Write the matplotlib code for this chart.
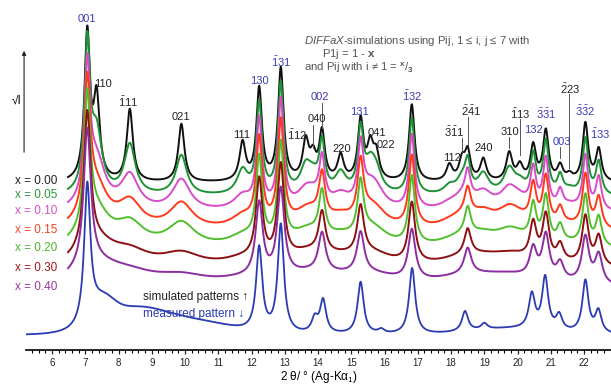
import numpy as np
import matplotlib
matplotlib.use("Agg")
import matplotlib.pyplot as plt
from matplotlib.ticker import MultipleLocator, FixedLocator

plt.rcParams["font.family"] = ["Liberation Sans", "DejaVu Sans"]
plt.rcParams["mathtext.fontset"] = "custom"
plt.rcParams["mathtext.rm"] = "Liberation Sans"
plt.rcParams["mathtext.it"] = "Liberation Sans:italic"
plt.rcParams["mathtext.bf"] = "Liberation Sans:bold"

# reflection positions (2 theta, deg) and whether the reflection stays sharp with disorder
PEAK_POS = [7.06, 7.34, 8.34, 9.89, 11.73, 12.23, 12.88, 13.63, 13.85, 14.12,
            14.68, 15.28, 15.57, 15.75, 16.82, 17.95, 18.33, 18.50, 18.97, 19.75,
            20.07, 20.47, 20.85, 21.28, 21.56, 22.04, 22.44]
PEAK_SHARP = [1, 0, 0, 0, 0, 1, 1, 0, 0, 1,
              0, 1, 0, 0, 1, 0, 0, 1, 0, 0,
              0, 1, 1, 1, 0, 1, 1]

# peak heights (sqrt I, arb. units) for each simulated pattern
H_000 = [146, 80, 72, 58, 38, 92, 112, 38, 22, 48, 25, 60, 33, 25, 77, 16, 20, 28, 22, 28, 15, 35, 50, 15, 6, 58, 32]
H_005 = [144, 60, 50, 40, 24, 90, 110, 25, 13, 48, 20, 60, 26, 18, 76, 8, 14, 28, 20, 25, 10, 38, 52, 18, 5, 56, 33]
H_010 = [130, 48, 34, 31, 14, 88, 108, 16, 9, 44, 13, 57, 18, 13, 74, 5, 11, 28, 16, 20, 7, 38, 49, 17, 5, 54, 33]
H_015 = [129, 40, 26, 26, 12, 86, 104, 13, 7, 44, 10, 56, 13, 10, 71, 4, 9, 27, 14, 18, 5, 38, 48, 17, 4, 53, 31]
H_020 = [133, 33, 22, 24, 10, 84, 99, 11, 5, 44, 8, 53, 11, 8, 68, 3, 7, 27, 10, 14, 4, 36, 46, 17, 4, 50, 29]
H_030 = [135, 24, 13, 13, 7, 80, 94, 9, 4, 41, 6, 48, 7, 5, 60, 2, 5, 26, 7, 9, 3, 36, 46, 17, 3, 48, 29]
H_040 = [138, 20, 9, 9, 5, 74, 87, 7, 3, 39, 4, 41, 5, 4, 50, 2, 4, 26, 5, 7, 2, 29, 44, 17, 2, 46, 29]

SERIES_LABELS = ["x = 0.00", "x = 0.05", "x = 0.10", "x = 0.15", "x = 0.20", "x = 0.30", "x = 0.40"]
SERIES_HEIGHTS = [H_000, H_005, H_010, H_015, H_020, H_030, H_040]
SHARP_HW = [0.10, 0.10, 0.10, 0.11, 0.11, 0.12, 0.13]
DIFFUSE_HW = [0.11, 0.20, 0.32, 0.42, 0.50, 0.70, 0.95]

# measured pattern
MEAS_POS = [7.06, 12.23, 12.88, 13.90, 14.15, 15.28, 15.90, 16.83, 18.42, 19.00,
            20.43, 20.83, 21.25, 22.04, 22.43]
MEAS_H = [135, 84, 108, 14, 33, 52, 4, 66, 20, 6, 34, 52, 15, 52, 22]
MEAS_BAND_POS = [7.5, 8.5, 10.5, 19.8]
MEAS_BAND_H = [20, 26, 11, 6]
MEAS_BAND_SIG = [0.35, 1.0, 1.0, 1.2]

OFFSETS = [167, 153, 137, 118, 100, 80, 61]
MEAS_OFFSET = 15
COLORS = ["#111111", "#1e9234", "#d84cc6", "#ff3a1c", "#52bf2e", "#8e1014", "#8c2ea0"]
LABEL_COLORS = ["#222222", "#2b9a3c", "#d650c0", "#f0441e", "#4cb232", "#a2181e", "#973c9f"]
MEAS_COLOR = "#2b3cb3"
BLUE_TXT = "#3b3bb5"


def lorentz(x, pos, h, hw):
    return h / (1 + ((x - pos) / hw) ** 2)


x_sim = np.linspace(6.48, 22.81, 3000)
x_meas = np.linspace(5.22, 22.81, 3000)

fig = plt.figure(figsize=(6.11, 3.85), dpi=100)
ax = fig.add_axes([26 / 611, 35 / 385, 1 - 26 / 611, 1 - 35 / 385])
ax.set_xlim(5.218, 22.81)
ax.set_ylim(0, 350)

for i, heights in enumerate(SERIES_HEIGHTS):
    y = np.full_like(x_sim, OFFSETS[i], dtype=float)
    for p, h, s in zip(PEAK_POS, heights, PEAK_SHARP):
        y += lorentz(x_sim, p, h, SHARP_HW[i] if s else DIFFUSE_HW[i])
    ax.plot(x_sim, y, color=COLORS[i], lw=1.4, solid_joinstyle="round")
    ax.text(6.15, OFFSETS[i] + 2, SERIES_LABELS[i], color=LABEL_COLORS[i],
            fontsize=8.5, ha="right", va="center")

ym = np.full_like(x_meas, MEAS_OFFSET, dtype=float)
for p, h in zip(MEAS_POS, MEAS_H):
    ym += lorentz(x_meas, p, h, 0.11)
for p, h, s in zip(MEAS_BAND_POS, MEAS_BAND_H, MEAS_BAND_SIG):
    ym += h * np.exp(-(x_meas - p) ** 2 / (2 * s ** 2))
ax.plot(x_meas, ym, color=MEAS_COLOR, lw=1.3)

# hkl labels: (text, x, y, blue?)
hkl = [
    ("001", 7.05, 331, True), ("110", 7.53, 266, False), (r"$\bar{1}$11", 8.29, 248, False),
    ("021", 9.88, 233, False), ("111", 11.71, 215, False), ("130", 12.23, 269, True),
    (r"$\bar{1}$31", 12.89, 288, True), (r"$\bar{1}$12", 13.37, 215, False),
    ("040", 13.97, 231, False), ("002", 14.06, 253, True), ("220", 14.72, 201, False),
    ("131", 15.26, 238, True), ("041", 15.77, 217, False), ("022", 16.05, 205, False),
    (r"$\bar{1}$32", 16.83, 254, True), ("112", 18.03, 192, False),
    (r"$\bar{3}\bar{1}$1", 18.09, 218, False), (r"$\bar{2}\bar{4}$1", 18.60, 239, False),
    ("240", 18.99, 202, False), ("310", 19.77, 218, False), (r"$\bar{1}$13", 20.08, 236, False),
    ("132", 20.47, 220, True), (r"$\bar{3}\bar{3}$1", 20.86, 236, True),
    ("003", 21.34, 208, True), (r"$\bar{2}$23", 21.58, 261, False),
    (r"$\bar{3}\bar{3}$2", 22.03, 239, True), (r"$\bar{1}$33", 22.48, 216, True),
]
for t, x, y, blue in hkl:
    ax.text(x, y, t, fontsize=8, ha="center", va="center",
            color=BLUE_TXT if blue else "#222222")

leaders = [(13.85, 225, 202), (14.12, 247, 222), (18.33, 212, 198), (18.50, 233, 205),
           (19.75, 213, 202), (20.07, 231, 195), (21.28, 203, 192), (21.56, 256, 182)]
for x, y0, y1 in leaders:
    ax.plot([x, x], [y0, y1], color="#555555", lw=0.7)

ax.text(8.74, 53, "simulated patterns ↑", fontsize=8.5, color="#222222", va="center")
ax.text(8.74, 36, "measured pattern ↓", fontsize=8.5, color=MEAS_COLOR, va="center")

ax.annotate("", xy=(5.16, 302), xytext=(5.16, 195), annotation_clip=False,
            arrowprops=dict(arrowstyle="-|>", color="#222222", lw=0.8, mutation_scale=6))
ax.text(4.92, 249, "√I", fontsize=8.5, ha="center", va="center", clip_on=False)

for s in ["top", "right", "left"]:
    ax.spines[s].set_visible(False)
ax.spines["bottom"].set_linewidth(1.2)
ax.set_yticks([])
ax.xaxis.set_major_locator(FixedLocator(list(range(6, 23))))
ax.xaxis.set_minor_locator(MultipleLocator(0.2))
ax.tick_params(axis="x", which="major", length=3, width=0.9, labelsize=7, colors="#222222", pad=3)
ax.tick_params(axis="x", which="minor", length=2, width=0.8)
ax.set_xlabel(r"2 θ/ ° (Ag-Kα$_1$)", fontsize=8.5, labelpad=0.5)

fig.text(304 / 611, 1 - 41 / 385, r"$\mathit{DIFFaX}$-simulations using Pij, 1 ≤ i, j ≤ 7 with",
         fontsize=8.2, color="#555555", va="center")
fig.text(322 / 611, 1 - 54 / 385, r"P1j = 1 - $\mathbf{x}$", fontsize=8.2, color="#555555", va="center")
fig.text(304 / 611, 1 - 68 / 385, r"and Pij with i ≠ 1 = $^{\mathbf{x}}/_{\mathbf{3}}$",
         fontsize=8.2, color="#555555", va="center")

fig.savefig("out.png", dpi=100, facecolor="white")
